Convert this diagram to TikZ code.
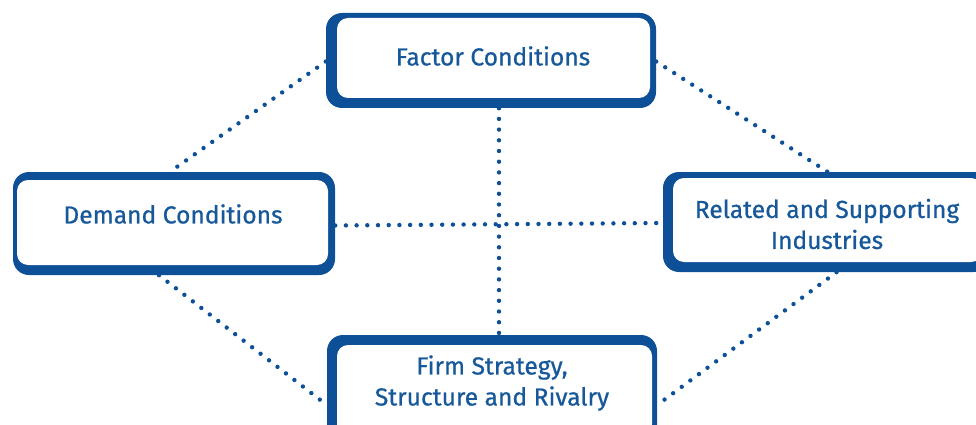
\documentclass[tikz,border=0pt]{standalone}
\usepackage{fontspec}
\setmainfont{Fira Sans}
\newfontfamily\lblfont{Fira Sans}[FakeBold=0.7]
\definecolor{bblue}{HTML}{0D5097}
\definecolor{tblue}{HTML}{17589A}
\tikzset{
  outerbox/.style={fill=bblue, draw=none, rounded corners=16pt, inner sep=0pt},
  innerbox/.style={fill=white, draw=none, rounded corners=11pt, inner sep=0pt},
  lbl/.style={text=tblue, font=\lblfont\fontsize{24.6}{31}\selectfont, align=center, inner sep=0pt},
  dotline/.style={draw=bblue, line width=4.4pt, line cap=round, dash pattern=on 0pt off 10.7pt},
}
\begin{document}
\begin{tikzpicture}[x=1pt,y=-1pt]
\useasboundingbox (0,0) rectangle (976,425);
% Factor Conditions
\node[outerbox, minimum width=330pt, minimum height=95pt] (F) at (491,60.5) {};
\node[innerbox, minimum width=313pt, minimum height=80pt] (Fi) at (493.5,58) {};
\node[lbl] (Ft) at (493,56) {Factor Conditions};
% Demand Conditions
\node[outerbox, minimum width=322pt, minimum height=103pt] (D) at (174,223.5) {};
\node[innerbox, minimum width=311pt, minimum height=85pt] (Di) at (172.5,222.5) {};
\node[lbl] (Dt) at (173,214) {Demand Conditions};
% Related and Supporting Industries
\node[outerbox, minimum width=327pt, minimum height=100pt] (R) at (826.5,222) {};
\node[innerbox, minimum width=309pt, minimum height=84pt] (Ri) at (827.5,220) {};
\node[lbl] (Rt) at (827,224) {Related and Supporting\\Industries};
% Firm Strategy
\node[outerbox, minimum width=330pt, minimum height=110pt] (S) at (492,390) {};
\node[innerbox, minimum width=315pt, minimum height=90pt] (Si) at (494.5,390) {};
\node[lbl] (St) at (492,383) {Firm Strategy,\\Structure and Rivalry};
% connectors
\draw[dotline] ([yshift=-1pt]F.west) -- ([xshift=-4pt]D.north);
\draw[dotline] ([yshift=-1pt]F.east) -- ([xshift=1pt]R.north);
\draw[dotline] ([xshift=8pt]F.south) -- ([xshift=7pt]S.north);
\draw[dotline] ([yshift=-2pt]D.east) -- ([yshift=-1pt]R.west);
\draw[dotline] ([xshift=-15pt]D.south) -- ([yshift=-15pt]S.west);
\draw[dotline] ([xshift=10pt]R.south) -- ([yshift=-15pt]S.east);
\end{tikzpicture}
\end{document}
